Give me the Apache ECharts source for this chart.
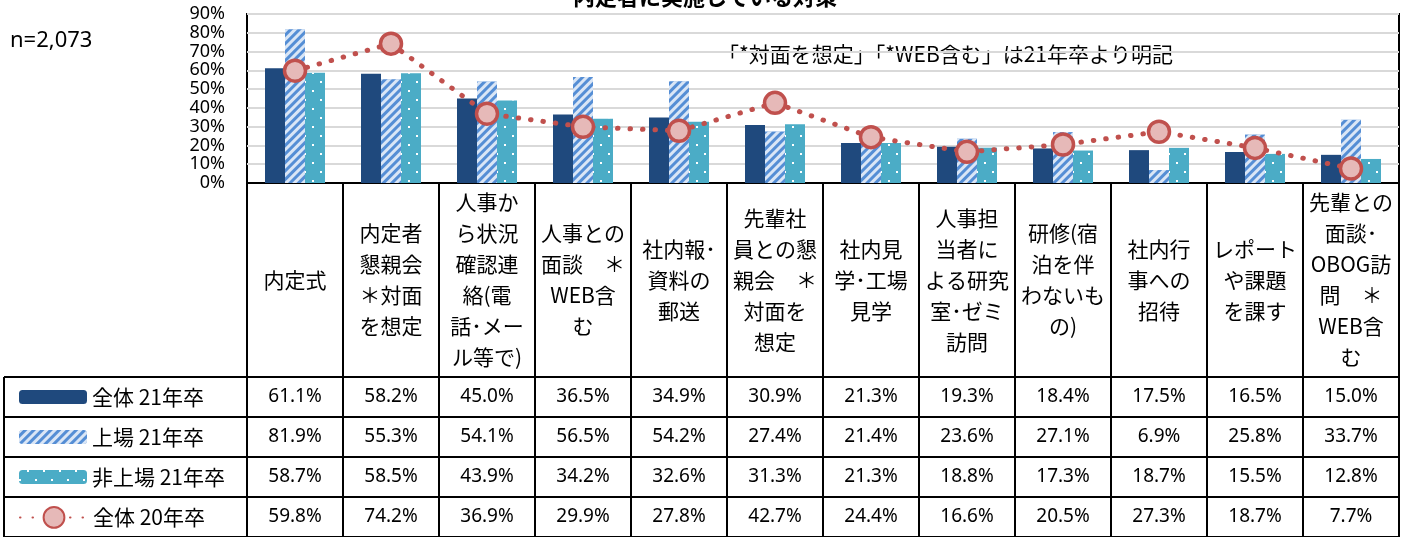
<!DOCTYPE html>
<html>
<head>
<meta charset="utf-8">
<script src="https://cdn.jsdelivr.net/npm/echarts@6/dist/echarts.min.js"></script>
<style>
  html, body { margin: 0; padding: 0; background: #fff; }
  #chart { width: 1410px; height: 537px; }
</style>
</head>
<body>
<div id="chart"></div>
<script>
// categories (line breaks as in the source table)
var categories = [
  '内定式',
  '内定者\n懇親会\n＊対面\nを想定',
  '人事か\nら状況\n確認連\n絡(電\n話･メー\nル等で)',
  '人事との\n面談　＊\nWEB含\nむ',
  '社内報･\n資料の\n郵送',
  '先輩社\n員との懇\n親会　＊\n対面を\n想定',
  '社内見\n学･工場\n見学',
  '人事担\n当者に\nよる研究\n室･ゼミ\n訪問',
  '研修(宿\n泊を伴\nわないも\nの)',
  '社内行\n事への\n招待',
  'レポート\nや課題\nを課す',
  '先輩との\n面談･\nOBOG訪\n問　＊\nWEB含\nむ'
]
var seriesNames = ['全体 21年卒', '上場 21年卒', '非上場 21年卒', '全体 20年卒']
var all21 = [61.1, 58.2, 45.0, 36.5, 34.9, 30.9, 21.3, 19.3, 18.4, 17.5, 16.5, 15.0]
var listed21 = [81.9, 55.3, 54.1, 56.5, 54.2, 27.4, 21.4, 23.6, 27.1, 6.9, 25.8, 33.7]
var unlisted21 = [58.7, 58.5, 43.9, 34.2, 32.6, 31.3, 21.3, 18.8, 17.3, 18.7, 15.5, 12.8]
var all20 = [59.8, 74.2, 36.9, 29.9, 27.8, 42.7, 24.4, 16.6, 20.5, 27.3, 18.7, 7.7]
var yTicks = [0, 10, 20, 30, 40, 50, 60, 70, 80, 90]

var FONT = "'Noto Sans', 'Noto Sans CJK JP', sans-serif"
var JP = "'Noto Sans CJK JP', sans-serif"

// layout
var plotLeft = 247
var plotRight = 1399
var plotTop = 14
var plotBottom = 183
var colW = (plotRight - plotLeft) / categories.length
var tableLeft = 4
var headerBottom = 377
var rowH = 40

var chart = echarts.init(document.getElementById('chart'))

var graphics = []
// title (cut off by top edge)
graphics.push({
  type: 'text', left: 'center', top: -14,
  style: { text: '内定者に実施している対策', font: 'bold 22px ' + JP, fill: '#000' }
})
graphics.push({
  type: 'text', left: 10, top: 30,
  style: { text: 'n=2,073', font: '22px ' + FONT, fill: '#000' }
})
graphics.push({
  type: 'text', left: 718, top: 44,
  style: { text: '「*対面を想定」「*WEB含む」は21年卒より明記', font: '21px ' + JP, fill: '#000' }
})

// table lines
var lineStyle = { stroke: '#000', lineWidth: 2 }
for (var i = 0; i <= categories.length; i++) {
  var x = Math.round(plotLeft + colW * i)
  graphics.push({ type: 'line', shape: { x1: x, y1: plotBottom, x2: x, y2: 540 }, style: lineStyle, z: 10 })
}
graphics.push({ type: 'line', shape: { x1: tableLeft, y1: headerBottom, x2: tableLeft, y2: 540 }, style: lineStyle, z: 10 })
for (var r = 0; r <= 4; r++) {
  var y = headerBottom + rowH * r
  graphics.push({ type: 'line', shape: { x1: tableLeft, y1: y, x2: plotRight, y2: y }, style: lineStyle, z: 10 })
}

// header texts
categories.forEach(function (name, i) {
  graphics.push({
    type: 'text',
    x: plotLeft + colW * (i + 0.5),
    y: (plotBottom + headerBottom) / 2,
    style: {
      text: name, font: '21px ' + JP, fill: '#000',
      align: 'center', verticalAlign: 'middle', lineHeight: 31
    }
  })
})

// value rows
var rows = [all21, listed21, unlisted21, all20]
rows.forEach(function (vals, r) {
  vals.forEach(function (v, i) {
    graphics.push({
      type: 'text',
      x: plotLeft + colW * (i + 0.5),
      y: headerBottom + rowH * (r + 0.5),
      style: {
        text: v.toFixed(1) + '%', font: '19px ' + FONT, fill: '#000',
        align: 'center', verticalAlign: 'middle'
      }
    })
  })
})

// one legend per table row
var legends = seriesNames.map(function (name, r) {
  var h = r === 3 ? 26 : 14
  return {
    left: 14,
    top: headerBottom + rowH * r + 20 - Math.max(h, 22) / 2 - (r === 3 ? 3 : 5),
    itemWidth: 68,
    itemHeight: h,
    itemGap: 0,
    textStyle: { fontSize: 21, fontFamily: JP, color: '#000', lineHeight: 22 },
    data: [name]
  }
})

var option = {
  animation: false,
  backgroundColor: '#fff',
  grid: {
    left: plotLeft, right: 1410 - plotRight, top: plotTop, bottom: 537 - plotBottom,
    show: true, borderColor: '#000', borderWidth: 2
  },
  legend: legends,
  xAxis: {
    type: 'category',
    data: categories,
    axisLabel: { show: false },
    axisTick: { show: false },
    axisLine: { lineStyle: { color: '#000', width: 2 } }
  },
  yAxis: {
    type: 'value',
    min: yTicks[0],
    max: yTicks[yTicks.length - 1],
    interval: 10,
    axisLine: { show: false },
    axisTick: { show: false },
    axisLabel: {
      formatter: '{value}%', fontSize: 18, fontFamily: FONT, color: '#000', margin: 22,
      showMinLabel: true, showMaxLabel: true
    },
    splitLine: { lineStyle: { color: '#d9d9d9', width: 2 } }
  },
  series: [
    {
      name: seriesNames[0], type: 'bar', data: all21,
      barWidth: 20, barGap: '0%',
      itemStyle: { color: '#1f497d' }
    },
    {
      name: seriesNames[1], type: 'bar', data: listed21,
      barWidth: 20, barGap: '0%',
      itemStyle: {
        color: '#558ed5',
        decal: {
          symbol: 'rect', color: 'rgba(255,255,255,0.78)',
          dashArrayX: [1, 0], dashArrayY: [3, 3], rotation: -Math.PI / 4
        }
      }
    },
    {
      name: seriesNames[2], type: 'bar', data: unlisted21,
      barWidth: 20, barGap: '0%',
      itemStyle: {
        color: '#4bacc6',
        decal: {
          symbol: 'rect', color: '#fff', symbolSize: 1,
          dashArrayX: [[2, 14], [0, 8, 2, 6]], dashArrayY: [2, 7]
        }
      }
    },
    {
      name: seriesNames[3], type: 'line', data: all20, z: 5,
      symbol: 'circle', symbolSize: 21,
      itemStyle: { color: '#e6b9b8', borderColor: '#c0504d', borderWidth: 3.5 },
      lineStyle: { color: '#c0504d', width: 5, type: [0.5, 12], cap: 'round' }
    }
  ],
  graphic: graphics
}
chart.setOption(option)
</script>
</body>
</html>
